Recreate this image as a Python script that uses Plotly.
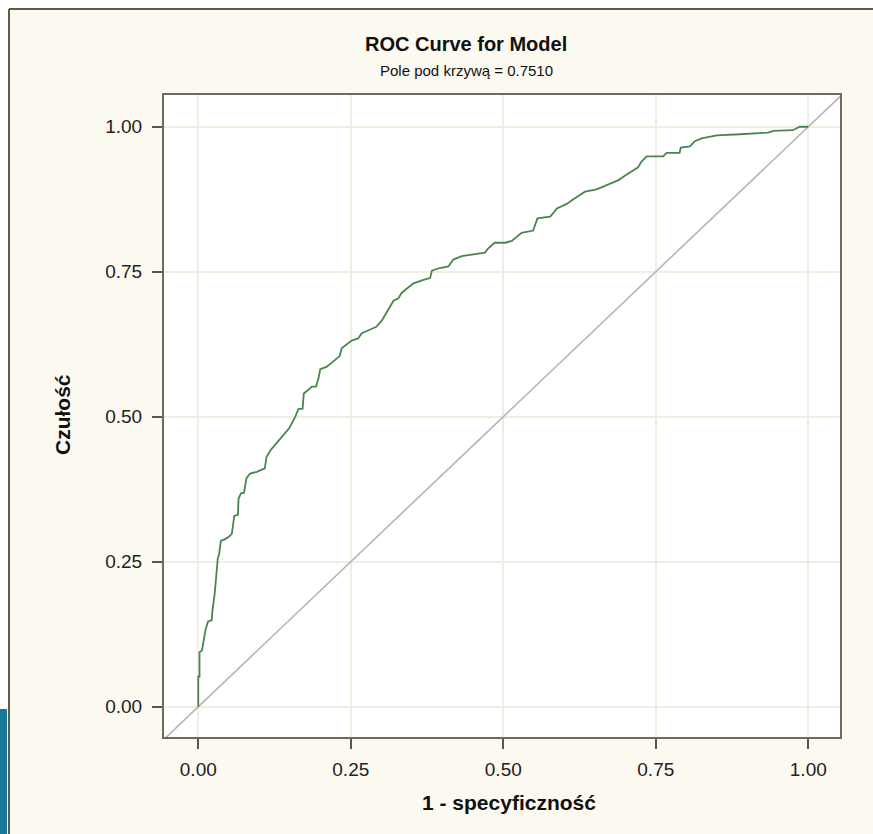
import plotly.graph_objects as go

# ROC curve points
fpr = [0, 0, 0.002, 0.002, 0.006, 0.012, 0.016, 0.022, 0.023, 0.027, 0.032, 0.034, 0.037, 0.044,
       0.050, 0.055, 0.057, 0.059, 0.065, 0.066, 0.070, 0.075, 0.079, 0.085, 0.096, 0.103, 0.109,
       0.112, 0.119, 0.128, 0.139, 0.149, 0.159, 0.164, 0.171, 0.173, 0.180, 0.186, 0.193, 0.197,
       0.200, 0.210, 0.221, 0.232, 0.235, 0.243, 0.251, 0.262, 0.268, 0.281, 0.292, 0.301, 0.309,
       0.320, 0.328, 0.333, 0.342, 0.353, 0.369, 0.380, 0.383, 0.394, 0.410, 0.418, 0.432, 0.451,
       0.470, 0.475, 0.486, 0.503, 0.514, 0.530, 0.549, 0.556, 0.577, 0.588, 0.604, 0.615, 0.634,
       0.653, 0.669, 0.689, 0.700, 0.710, 0.721, 0.726, 0.735, 0.762, 0.768, 0.789, 0.791, 0.806,
       0.814, 0.825, 0.850, 0.888, 0.934, 0.943, 0.975, 0.986, 1.0]
tpr = [0, 0.052, 0.052, 0.094, 0.097, 0.133, 0.147, 0.149, 0.164, 0.196, 0.256, 0.262, 0.286, 0.289,
       0.293, 0.298, 0.313, 0.329, 0.331, 0.359, 0.368, 0.369, 0.394, 0.402, 0.405, 0.409, 0.411,
       0.431, 0.443, 0.454, 0.468, 0.480, 0.500, 0.513, 0.514, 0.540, 0.546, 0.552, 0.552, 0.566,
       0.582, 0.586, 0.595, 0.605, 0.618, 0.625, 0.631, 0.635, 0.644, 0.650, 0.655, 0.666, 0.681,
       0.700, 0.704, 0.713, 0.721, 0.730, 0.736, 0.739, 0.752, 0.756, 0.759, 0.771, 0.777, 0.780,
       0.783, 0.790, 0.800, 0.800, 0.803, 0.817, 0.821, 0.842, 0.845, 0.859, 0.867, 0.875, 0.888,
       0.892, 0.899, 0.908, 0.916, 0.922, 0.930, 0.939, 0.949, 0.949, 0.955, 0.955, 0.964, 0.966,
       0.975, 0.980, 0.985, 0.987, 0.990, 0.993, 0.994, 1.0, 1.0]

diag = [-0.1, 1.1]
tick_vals = [0, 0.25, 0.5, 0.75, 1.0]
tick_text = ["0.00", "0.25", "0.50", "0.75", "1.00"]

title = "ROC Curve for Model"
subtitle = "Pole pod krzywą = 0.7510"
x_title = "1 - specyficzność"
y_title = "Czułość"

W, H = 873, 834
L, T = 164, 95
R, B = W - 840, H - 737
pw, ph = W - L - R, H - T - B


def px(x):  # page x -> paper
    return (x - L) / pw


def py(y):  # page y -> paper
    return (H - B - y) / ph


FONT = "Liberation Sans, Arial, sans-serif"
cream = "#FCF9F1"

fig = go.Figure()
fig.add_trace(go.Scatter(x=diag, y=diag, mode="lines",
                         line=dict(color="#B4B4B4", width=1.6), hoverinfo="skip"))
fig.add_trace(go.Scatter(x=fpr, y=tpr, mode="lines",
                         line=dict(color="#4A8550", width=1.8)))

axis_common = dict(
    tickvals=tick_vals, ticktext=tick_text,
    showgrid=True, gridcolor="#F0EEE0", gridwidth=1.5,
    zeroline=False, showline=True, mirror=True,
    linecolor="#6E6A5E", linewidth=2,
    ticks="outside", ticklen=10, tickwidth=2, tickcolor="#5A564C",
    tickfont=dict(family=FONT, size=19, color="#222222"),
)
fig.update_xaxes(range=[-0.0562, 1.052], ticklabelstandoff=4, **axis_common)
fig.update_yaxes(range=[-0.0522, 1.0547], ticklabelstandoff=6, **axis_common)

frame = "#5E5A4F"
shapes = [
    # white page strips outside the cream panel
    dict(type="rect", xref="paper", yref="paper", x0=px(-5), x1=px(W + 5), y0=py(8), y1=py(-5),
         fillcolor="white", line=dict(width=0)),
    dict(type="rect", xref="paper", yref="paper", x0=px(-5), x1=px(8), y0=py(H + 5), y1=py(-5),
         fillcolor="white", line=dict(width=0)),
    # blue fragment at lower-left
    dict(type="rect", xref="paper", yref="paper", x0=px(-5), x1=px(7), y0=py(H + 5), y1=py(709),
         fillcolor="#17789A", line=dict(width=0)),
    # panel border
    dict(type="line", xref="paper", yref="paper", x0=px(9), x1=px(9), y0=py(9), y1=py(H + 5),
         line=dict(color=frame, width=2)),
    dict(type="line", xref="paper", yref="paper", x0=px(9), x1=px(W + 5), y0=py(9), y1=py(9),
         line=dict(color=frame, width=2)),
]

annotations = [
    dict(text="<b>" + title + "</b>", x=px(466), y=py(44), xref="paper", yref="paper",
         showarrow=False, xanchor="center", yanchor="middle",
         font=dict(family=FONT, size=20, color="#111111")),
    dict(text=subtitle, x=px(466), y=py(70), xref="paper", yref="paper",
         showarrow=False, xanchor="center", yanchor="middle",
         font=dict(family=FONT, size=15, color="#111111")),
    dict(text="<b>" + x_title + "</b>", x=px(509), y=py(803), xref="paper", yref="paper",
         showarrow=False, xanchor="center", yanchor="middle",
         font=dict(family=FONT, size=21, color="#111111")),
    dict(text="<b>" + y_title + "</b>", x=px(62), y=py(415), xref="paper", yref="paper",
         showarrow=False, xanchor="center", yanchor="middle", textangle=-90,
         font=dict(family=FONT, size=21, color="#111111")),
]

fig.update_layout(
    width=W, height=H,
    margin=dict(l=L, r=R, t=T, b=B, pad=0),
    paper_bgcolor=cream, plot_bgcolor="white",
    showlegend=False,
    shapes=shapes, annotations=annotations,
)

fig.write_html(
    "out.html",
    config={"displayModeBar": False},
    post_script="document.body.style.margin='0';document.body.style.overflow='hidden';",
)
